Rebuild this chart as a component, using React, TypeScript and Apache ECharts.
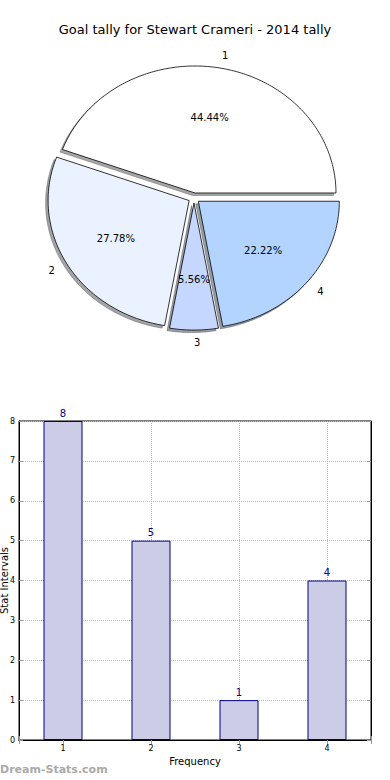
import React, { useEffect, useRef } from "react";
import * as echarts from "echarts";

const chartTitle = "Goal tally for Stewart Crameri - 2014 tally";
const pieLabels = ["1", "2", "3", "4"];
const pieValues = [8, 5, 1, 4];
const pieColors = ["#ffffff", "#ebf2ff", "#c5d7ff", "#b3d4ff"];
const barCategories = [1, 2, 3, 4];
const barValues = [8, 5, 1, 4];
const xAxisName = "Frequency";
const yAxisName = "Stat Intervals";
const watermark = "Dream-Stats.com";

const FONT = "DejaVu Sans";

// pie geometry (ellipse, matplotlib-like)
const PCX = 194;
const PCY = 198;
const PRX = 141;
const PRY = 127;
const EXPLODE = 0.04;
const SHADOW_DX = -2.5;
const SHADOW_DY = 2.5;

function shadowColor(hex: string): string {
  const r = parseInt(hex.slice(1, 3), 16);
  const g = parseInt(hex.slice(3, 5), 16);
  const b = parseInt(hex.slice(5, 7), 16);
  return `rgb(${Math.round(r * 0.3)},${Math.round(g * 0.3)},${Math.round(b * 0.3)})`;
}

export default function App() {
  const ref = useRef<HTMLDivElement>(null);

  useEffect(() => {
    if (!ref.current) return;
    const chart = echarts.init(ref.current, undefined, { renderer: "svg" });
    const total = pieValues.reduce((a, b) => a + b, 0);

    const renderSlice = (params: any, api: any) => {
      const i = params.dataIndex;
      const v = api.value(0) as number;
      const before = pieValues.slice(0, i).reduce((a, b) => a + b, 0);
      const a0 = (before / total) * Math.PI * 2;
      const a1 = ((before + v) / total) * Math.PI * 2;
      const am = (a0 + a1) / 2;
      const ox = PCX + EXPLODE * PRX * Math.cos(am);
      const oy = PCY - EXPLODE * PRY * Math.sin(am);
      const pts: number[][] = [[ox, oy]];
      const n = Math.max(2, Math.ceil((a1 - a0) / (Math.PI / 180)));
      for (let k = 0; k <= n; k++) {
        const a = a0 + ((a1 - a0) * k) / n;
        pts.push([ox + PRX * Math.cos(a), oy - PRY * Math.sin(a)]);
      }
      const shPts = pts.map((p) => [p[0] + SHADOW_DX, p[1] + SHADOW_DY]);
      const lx = ox + 1.1 * PRX * Math.cos(am);
      const ly = oy - 1.1 * PRY * Math.sin(am);
      const px = ox + 0.6 * PRX * Math.cos(am);
      const py = oy - 0.6 * PRY * Math.sin(am);
      const sc = shadowColor(pieColors[i]);
      return {
        type: "group",
        children: [
          {
            type: "polygon",
            shape: { points: shPts },
            style: { fill: sc, stroke: sc, lineWidth: 0.8, opacity: 0.5 },
            z2: 1,
          },
          {
            type: "polygon",
            shape: { points: pts },
            style: { fill: pieColors[i], stroke: "#000", lineWidth: 0.8 },
            z2: 10,
          },
          {
            type: "text",
            x: lx,
            y: ly,
            style: {
              text: pieLabels[i],
              align: Math.cos(am) > -1e-6 ? "left" : "right",
              verticalAlign: "middle",
              fontFamily: FONT,
              fontSize: 10,
              fill: "#000",
            },
            z2: 20,
          },
          {
            type: "text",
            x: px,
            y: py,
            style: {
              text: ((v / total) * 100).toFixed(2) + "%",
              align: "center",
              verticalAlign: "middle",
              fontFamily: FONT,
              fontSize: 10,
              fill: "#000",
            },
            z2: 20,
          },
        ],
      };
    };

    const tickStyle = { show: true, inside: true, length: 4, lineStyle: { color: "#999" } };
    const splitStyle = { show: true, lineStyle: { color: "#bbb", type: "dotted" as const, width: 1 } };

    chart.setOption({
      animation: false,
      backgroundColor: "#fff",
      title: {
        text: chartTitle,
        left: "center",
        top: 23,
        padding: 0,
        textStyle: { fontFamily: FONT, fontSize: 13, fontWeight: "normal", color: "#000" },
      },
      grid: {
        left: 19,
        right: 19,
        top: 421,
        bottom: 40,
        outerBoundsMode: "none",
        containLabel: false,
        show: true,
        borderColor: "#000",
        borderWidth: 1,
        backgroundColor: "transparent",
      },
      xAxis: [
        {
          type: "value",
          min: 0.5,
          max: 4.5,
          splitNumber: 4,
          name: xAxisName,
          nameLocation: "middle",
          nameGap: 16,
          nameMoveOverlap: false,
          nameTextStyle: { fontFamily: FONT, fontSize: 10, color: "#000" },
          axisLine: { show: true, lineStyle: { color: "#000" } },
          axisTick: tickStyle,
          axisLabel: {
            fontFamily: FONT,
            fontSize: 8,
            color: "#000",
            margin: 4,
            formatter: (val: number) =>
              barCategories.includes(val) ? String(val) : "",
          },
          splitLine: splitStyle,
        },
        {
          type: "value",
          min: 0.5,
          max: 4.5,
          splitNumber: 4,
          position: "top",
          axisLine: { show: true, lineStyle: { color: "#000" } },
          axisTick: tickStyle,
          axisLabel: { show: false },
          splitLine: { show: false },
        },
      ],
      yAxis: [
        {
          type: "value",
          min: 0,
          max: 8,
          interval: 1,
          name: yAxisName,
          nameLocation: "middle",
          nameGap: 10,
          nameMoveOverlap: false,
          nameTextStyle: { fontFamily: FONT, fontSize: 10, color: "#000" },
          axisLine: { show: true, lineStyle: { color: "#000" } },
          axisTick: tickStyle,
          axisLabel: { fontFamily: FONT, fontSize: 8, color: "#000", margin: 4 },
          splitLine: splitStyle,
        },
        {
          type: "value",
          min: 0,
          max: 8,
          interval: 1,
          position: "right",
          axisLine: { show: true, lineStyle: { color: "#000" } },
          axisTick: tickStyle,
          axisLabel: { show: false },
          splitLine: { show: false },
        },
      ],
      graphic: [
        {
          type: "text",
          left: 0,
          top: 764,
          style: {
            text: watermark,
            fontFamily: FONT,
            fontSize: 11,
            fontWeight: "bold",
            fill: "#aaaaaa",
          },
        },
      ],
      series: [
        {
          type: "custom",
          coordinateSystem: "none",
          renderItem: renderSlice,
          data: pieValues.map((v) => [v]),
        },
        {
          type: "bar",
          xAxisIndex: 0,
          yAxisIndex: 0,
          barWidth: 39,
          data: barCategories.map((c, i) => [c, barValues[i]]),
          itemStyle: { color: "#cccce6", borderColor: "#000080", borderWidth: 1 },
          label: {
            show: true,
            position: "top",
            distance: 3,
            fontFamily: FONT,
            fontSize: 10,
            color: "#000080",
          },
        },
      ],
    });
    return () => chart.dispose();
  }, []);

  return (
    <div
      ref={ref}
      style={{ position: "fixed", left: 0, top: 0, width: 390, height: 780 }}
    />
  );
}
